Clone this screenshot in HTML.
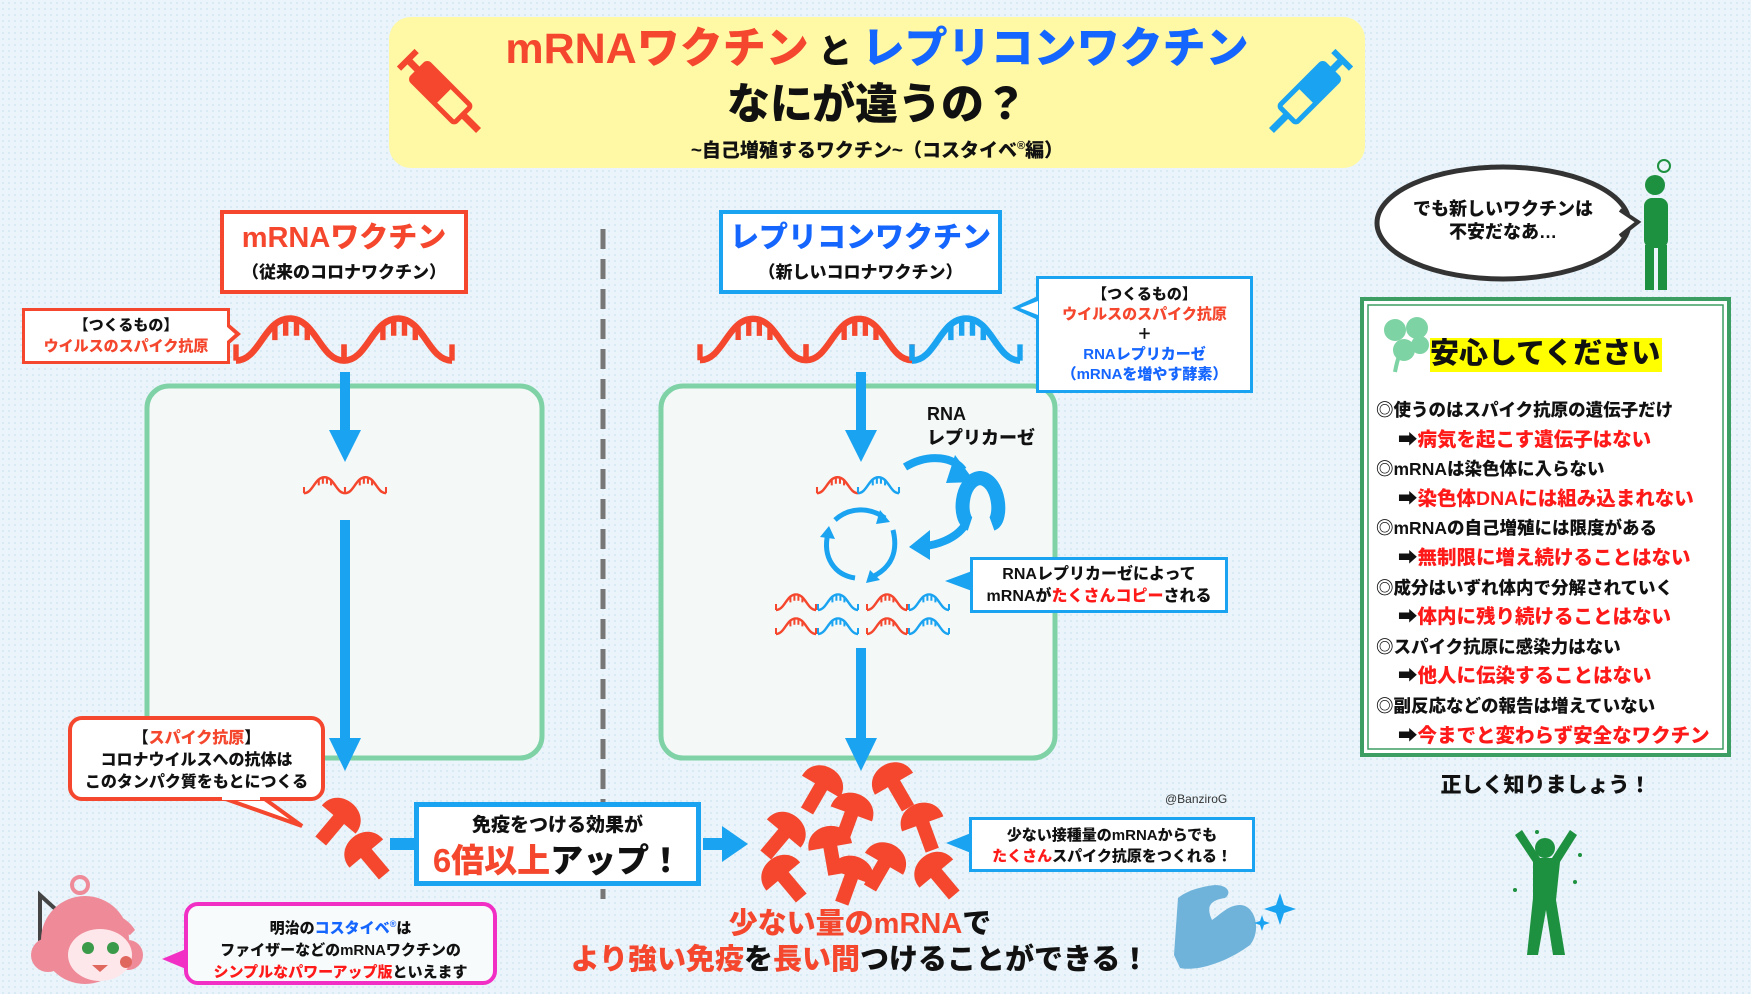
<!DOCTYPE html>
<html><head><meta charset="utf-8">
<style>
*{margin:0;padding:0;box-sizing:border-box}
body{width:1751px;height:994px;position:relative;overflow:hidden;background:#eaf4fa;
background-image:radial-gradient(#d6e9f4 1px,transparent 1.2px);background-size:6px 6px;
font-family:"Liberation Sans","Noto Sans CJK JP",sans-serif;font-weight:900;color:#111}
.a{position:absolute}
.c{text-align:center}
.r{color:#f4472e}.b{color:#1565ff}.rr{color:#ff1a1a}
.box{position:absolute;background:#fff;border:4px solid}
</style></head><body>
<svg class="a" style="left:0;top:0" width="1751" height="994" viewBox="0 0 1751 994">
<defs>
<symbol id="hump" viewBox="0 0 100 50" overflow="visible">
<path d="M0,45 C22,45 26,6 50,6 C74,6 78,45 100,45" fill="none" stroke="currentColor" stroke-width="6"/>
<path d="M36,12V26M46,7V22M56,7V22M66,12V26" stroke="currentColor" stroke-width="5"/>
<path d="M0,45 V30 M100,45 V30" stroke="currentColor" stroke-width="5"/>
</symbol>
<symbol id="mush" viewBox="-25 -25 50 60" overflow="visible">
<path d="M-22,2 C-22,-26 22,-26 22,2 Z" fill="#f4472e"/>
<rect x="-7" y="0" width="14" height="30" fill="#f4472e"/>
</symbol>
</defs>
<rect x="389" y="17" width="976" height="151" rx="22" fill="#fff9a6"/>
<g transform="translate(440,92) rotate(45)" fill="#f4472e" stroke="#f4472e">
<rect x="-30" y="-12" width="62" height="24" rx="3" fill="none" stroke-width="5"/>
<rect x="-30" y="-10" width="35" height="20"/><rect x="32" y="-3" width="22" height="6"/>
<rect x="-44" y="-3" width="14" height="6"/><rect x="-48" y="-12" width="5" height="24"/>
</g>
<g transform="translate(1310,92) rotate(135)" fill="#1aa3f0" stroke="#1aa3f0">
<rect x="-30" y="-12" width="62" height="24" rx="3" fill="none" stroke-width="5"/>
<rect x="-30" y="-10" width="35" height="20"/><rect x="32" y="-3" width="22" height="6"/>
<rect x="-44" y="-3" width="14" height="6"/><rect x="-48" y="-12" width="5" height="24"/>
</g>
<line x1="603" y1="229" x2="603" y2="899" stroke="#777" stroke-width="5" stroke-dasharray="20 10"/>
<rect x="147" y="386" width="395" height="372" rx="22" fill="#f4f9f8" stroke="#7fd2a6" stroke-width="5"/>
<rect x="661" y="386" width="394" height="372" rx="22" fill="#f4f9f8" stroke="#7fd2a6" stroke-width="5"/>
<use href="#hump" x="236" y="312" width="108" height="54" color="#f4472e"/>
<use href="#hump" x="344" y="312" width="108" height="54" color="#f4472e"/>
<use href="#hump" x="700" y="312" width="106" height="54" color="#f4472e"/>
<use href="#hump" x="806" y="312" width="106" height="54" color="#f4472e"/>
<use href="#hump" x="912" y="312" width="108" height="54" color="#1aa3f0"/>
<use href="#hump" x="304" y="474" width="41" height="22" color="#f4472e"/>
<use href="#hump" x="345" y="474" width="41" height="22" color="#f4472e"/>
<use href="#hump" x="817" y="474" width="41" height="22" color="#f4472e"/>
<use href="#hump" x="858" y="474" width="41" height="22" color="#1aa3f0"/>
<g>
<use href="#hump" x="775" y="592" width="42" height="20" color="#f4472e"/><use href="#hump" x="817" y="592" width="42" height="20" color="#1aa3f0"/>
<use href="#hump" x="866" y="592" width="42" height="20" color="#f4472e"/><use href="#hump" x="908" y="592" width="42" height="20" color="#1aa3f0"/>
<use href="#hump" x="775" y="616" width="42" height="20" color="#f4472e"/><use href="#hump" x="817" y="616" width="42" height="20" color="#1aa3f0"/>
<use href="#hump" x="866" y="616" width="42" height="20" color="#f4472e"/><use href="#hump" x="908" y="616" width="42" height="20" color="#1aa3f0"/>
</g>
<g fill="#1aa3f0">
<rect x="340" y="372" width="10" height="60"/><path d="M329,430 H361 L345,462Z"/>
<rect x="340" y="520" width="10" height="220"/><path d="M329,738 H361 L345,771Z"/>
<rect x="856" y="372" width="10" height="60"/><path d="M845,430 H877 L861,462Z"/>
<rect x="856" y="648" width="10" height="92"/><path d="M845,738 H877 L861,771Z"/>
<rect x="390" y="838" width="24" height="12"/>
<rect x="703" y="838" width="22" height="12"/><path d="M722,826 L748,844 L722,862Z"/>
</g>
<path d="M905,467 C930,452 955,458 963,470" fill="none" stroke="#1aa3f0" stroke-width="8"/>
<path d="M955,455 L975,482 L946,483Z" fill="#1aa3f0"/>
<path d="M965,525 C955,540 935,545 925,546" fill="none" stroke="#1aa3f0" stroke-width="8"/>
<path d="M930,530 L909,547 L930,560Z" fill="#1aa3f0"/>
<path d="M970,524 C958,520 960,480 980,478 C1000,480 1003,520 992,524" fill="none" stroke="#1aa3f0" stroke-width="14"/>
<g fill="none" stroke="#1aa3f0" stroke-width="5">
<path d="M835,520 C848,508 868,506 885,518"/><path d="M893,530 C898,550 893,568 870,578"/><path d="M855,578 C835,575 822,558 828,533"/>
</g>
<g fill="#1aa3f0"><path d="M880,510 L890,522 L876,524Z"/><path d="M870,570 L866,583 L880,580Z"/><path d="M820,537 L829,526 L835,539Z"/></g>
<path d="M220,797 L302,826 L262,797Z" fill="#fff" stroke="#f4472e" stroke-width="4" stroke-linejoin="miter"/>
<use href="#mush" x="-25" y="-25" width="50" height="60" transform="translate(340,818) rotate(40)"/>
<use href="#mush" x="-25" y="-25" width="50" height="60" transform="translate(365,852) rotate(-40)"/>
<g>
<use href="#mush" x="-25" y="-25" width="50" height="60" transform="translate(822,785) rotate(30)"/>
<use href="#mush" x="-25" y="-25" width="50" height="60" transform="translate(893,782) rotate(-30)"/>
<use href="#mush" x="-25" y="-25" width="50" height="60" transform="translate(852,812) rotate(20)"/>
<use href="#mush" x="-25" y="-25" width="50" height="60" transform="translate(922,822) rotate(-20)"/>
<use href="#mush" x="-25" y="-25" width="50" height="60" transform="translate(785,832) rotate(40)"/>
<use href="#mush" x="-25" y="-25" width="50" height="60" transform="translate(830,845) rotate(-10)"/>
<use href="#mush" x="-25" y="-25" width="50" height="60" transform="translate(885,862) rotate(30)"/>
<use href="#mush" x="-25" y="-25" width="50" height="60" transform="translate(782,875) rotate(-40)"/>
<use href="#mush" x="-25" y="-25" width="50" height="60" transform="translate(852,875) rotate(20)"/>
<use href="#mush" x="-25" y="-25" width="50" height="60" transform="translate(935,872) rotate(-40)"/>
</g>
<ellipse cx="1503" cy="223" rx="126" ry="56" fill="#fff" stroke="#333" stroke-width="5"/>
<path d="M1620,210 L1638,222 L1620,236" fill="#fff" stroke="#333" stroke-width="4"/>
<g fill="#1e9140"><circle cx="1655" cy="185" r="10"/><rect x="1644" y="198" width="24" height="50" rx="8"/><rect x="1645" y="245" width="9" height="45"/><rect x="1658" y="245" width="9" height="45"/></g>
<circle cx="1664" cy="166" r="6" fill="none" stroke="#1e9140" stroke-width="2"/>
<rect x="1362" y="299" width="367" height="456" fill="#fff" stroke="#3d9e63" stroke-width="4"/>
<rect x="1368" y="305" width="355" height="444" fill="none" stroke="#3d9e63" stroke-width="1.5"/>
<g fill="#7dd3a3"><circle cx="1395" cy="330" r="11"/><circle cx="1417" cy="328" r="11"/><circle cx="1404" cy="350" r="11"/><circle cx="1420" cy="345" r="9"/><path d="M1395,372 C1398,355 1402,348 1408,342" stroke="#7dd3a3" stroke-width="4" fill="none"/></g>
<rect x="1430" y="338" width="232" height="34" fill="#ffff00"/>
<g fill="#1e9140"><circle cx="1545" cy="848" r="10"/><path d="M1533,862 L1515,835 L1522,830 L1540,858 H1552 L1570,830 L1577,835 L1560,862 L1556,900 L1565,955 L1553,955 L1546,910 L1538,955 L1527,955 L1533,898Z"/></g>
<g fill="#1e9140"><circle cx="1537" cy="832" r="2"/><circle cx="1515" cy="890" r="2"/><circle cx="1575" cy="882" r="2"/><circle cx="1580" cy="855" r="2"/></g>
<path d="M1178,898 L1174,955 L1180,968 C1200,972 1230,960 1250,945 C1262,930 1255,905 1240,905 C1228,905 1220,915 1212,920 C1205,905 1212,900 1225,898 C1232,893 1228,885 1215,885 C1198,887 1185,892 1178,898Z" fill="#6fb3db"/>
<path d="M1280,893 l4,12 12,4 -12,4 -4,12 -4,-12 -12,-4 12,-4Z" fill="#1aa3f0"/>
<path d="M1262,915 l2,6 6,2 -6,2 -2,6 -2,-6 -6,-2 6,-2Z" fill="#1aa3f0"/>
<g>
<path d="M40,895 L40,940 L62,915Z" fill="none" stroke="#444" stroke-width="4"/>
<circle cx="85" cy="940" r="44" fill="#ef8a98"/>
<circle cx="48" cy="955" r="17" fill="#ef8a98"/><circle cx="128" cy="955" r="15" fill="#ef8a98"/>
<circle cx="80" cy="885" r="8" fill="none" stroke="#ef8a98" stroke-width="4"/>
<ellipse cx="100" cy="955" rx="32" ry="26" fill="#fde7ea"/>
<path d="M60,925 C75,905 120,905 135,930 L130,935 C110,925 90,925 70,940Z" fill="#ef8a98"/>
<circle cx="88" cy="948" r="6" fill="#3a9a4a"/><circle cx="113" cy="948" r="6" fill="#3a9a4a"/>
<circle cx="126" cy="962" r="6" fill="#e0675e"/>
<path d="M92,965 L108,965 L100,972Z" fill="#e0675e"/>
</g>
</svg>

<div class="a c" style="left:389px;top:22px;width:976px;font-size:43px;line-height:54px"><span class="r">mRNAワクチン</span><span style="font-size:34px"> と </span><span class="b">レプリコンワクチン</span></div>
<div class="a c" style="left:389px;top:78px;width:976px;font-size:43px;line-height:54px">なにが違うの？</div>
<div class="a c" style="left:389px;top:133px;width:976px;font-size:19px;line-height:26px">~自己増殖するワクチン~（コスタイベ<sup style="font-size:11px">®</sup>編）</div>

<div class="box c" style="left:220px;top:210px;width:248px;height:84px;border-color:#f4472e"><div class="r" style="font-size:29px;line-height:44px;margin-top:2px">mRNAワクチン</div><div style="font-size:17px;line-height:26px">（従来のコロナワクチン）</div></div>
<div class="box c" style="left:719px;top:210px;width:283px;height:84px;border-color:#1aa3f0"><div class="b" style="font-size:29px;line-height:44px;margin-top:2px">レプリコンワクチン</div><div style="font-size:17px;line-height:26px">（新しいコロナワクチン）</div></div>

<div class="box c" style="left:22px;top:308px;width:208px;height:56px;border-color:#f4472e;border-width:3px;font-size:15px;line-height:21px;padding-top:4px">【つくるもの】<br><span class="r">ウイルスのスパイク抗原</span></div>
<div class="a" style="left:227px;top:322px;width:0;height:0;border-top:12px solid transparent;border-bottom:12px solid transparent;border-left:14px solid #f4472e"></div>
<div class="a" style="left:226px;top:326px;width:0;height:0;border-top:8px solid transparent;border-bottom:8px solid transparent;border-left:9px solid #fff"></div>

<div class="box c" style="left:1036px;top:276px;width:217px;height:117px;border-color:#1aa3f0;border-width:3px;font-size:15px;line-height:20px;padding-top:6px">【つくるもの】<br><span class="r">ウイルスのスパイク抗原</span><br>＋<br><span class="b">RNAレプリカーゼ<br>（mRNAを増やす酵素）</span></div>
<div class="a" style="left:1012px;top:296px;width:0;height:0;border-top:12px solid transparent;border-bottom:12px solid transparent;border-right:26px solid #1aa3f0"></div>
<div class="a" style="left:1020px;top:301px;width:0;height:0;border-top:7px solid transparent;border-bottom:7px solid transparent;border-right:18px solid #fff"></div>

<div class="a" style="left:927px;top:402px;font-size:18px;line-height:24px">RNA<br>レプリカーゼ</div>

<div class="box c" style="left:970px;top:557px;width:258px;height:56px;border-color:#1aa3f0;border-width:3px;font-size:16px;line-height:22px;padding-top:4px">RNAレプリカーゼによって<br>mRNAが<span class="rr">たくさんコピー</span>される</div>
<div class="a" style="left:945px;top:571px;width:0;height:0;border-top:10px solid transparent;border-bottom:10px solid transparent;border-right:27px solid #1aa3f0"></div>

<div class="box c" style="left:68px;top:716px;width:257px;height:85px;border-color:#f4472e;border-radius:14px;font-size:16px;line-height:22px;padding-top:8px">【<span class="r">スパイク抗原</span>】<br>コロナウイルスへの抗体は<br>このタンパク質をもとにつくる</div>
<div class="a" style="left:222px;top:792px;width:38px;height:8px;background:#fff"></div>

<div class="box c" style="left:414px;top:802px;width:287px;height:84px;border-color:#1aa3f0;border-width:5px"><div style="font-size:19px;line-height:30px;margin-top:4px">免疫をつける効果が</div><div style="font-size:33px;line-height:40px"><span class="r">6倍以上</span>アップ！</div></div>

<div class="a" style="left:1165px;top:792px;font-size:12px;font-weight:400;color:#333">@BanziroG</div>
<div class="box c" style="left:969px;top:817px;width:286px;height:55px;border-color:#1aa3f0;border-width:3px;font-size:15px;line-height:21px;padding-top:5px">少ない接種量のmRNAからでも<br><span class="rr">たくさん</span>スパイク抗原をつくれる！</div>
<div class="a" style="left:946px;top:833px;width:0;height:0;border-top:10px solid transparent;border-bottom:10px solid transparent;border-right:25px solid #1aa3f0"></div>

<div class="a c" style="left:560px;top:905px;width:600px;font-size:29px;line-height:38px" ><span class="r">少ない量のmRNA</span>で</div>
<div class="a c" style="left:520px;top:941px;width:680px;font-size:29px;line-height:38px"><span class="r">より強い免疫</span>を<span class="r">長い間</span>つけることができる！</div>

<div class="box c" style="left:184px;top:902px;width:313px;height:83px;border-color:#f22fc4;border-radius:14px;border-width:4px;font-size:15px;line-height:22px;padding-top:7px;background:#f7fbfb">明治の<span class="b">コスタイベ<sup style="font-size:9px">®</sup></span>は<br>ファイザーなどのmRNAワクチンの<br><span class="rr">シンプルなパワーアップ版</span>といえます</div>
<div class="a" style="left:162px;top:949px;width:0;height:0;border-top:10px solid transparent;border-bottom:10px solid transparent;border-right:24px solid #f22fc4"></div>

<div class="a c" style="left:1376px;top:198px;width:254px;font-size:18px;line-height:23px">でも新しいワクチンは<br>不安だなあ…</div>

<div class="a" style="left:1430px;top:334px;font-size:29px;line-height:40px">安心してください</div>
<div class="a" style="left:1376px;top:396px;font-size:17.5px;line-height:29.6px;white-space:nowrap">
<div>◎使うのはスパイク抗原の遺伝子だけ</div>
<div class="rr" style="padding-left:22px;font-size:19.5px"><span style="color:#111">➡</span>病気を起こす遺伝子はない</div>
<div>◎mRNAは染色体に入らない</div>
<div class="rr" style="padding-left:22px;font-size:19.5px"><span style="color:#111">➡</span>染色体DNAには組み込まれない</div>
<div>◎mRNAの自己増殖には限度がある</div>
<div class="rr" style="padding-left:22px;font-size:19.5px"><span style="color:#111">➡</span>無制限に増え続けることはない</div>
<div>◎成分はいずれ体内で分解されていく</div>
<div class="rr" style="padding-left:22px;font-size:19.5px"><span style="color:#111">➡</span>体内に残り続けることはない</div>
<div>◎スパイク抗原に感染力はない</div>
<div class="rr" style="padding-left:22px;font-size:19.5px"><span style="color:#111">➡</span>他人に伝染することはない</div>
<div>◎副反応などの報告は増えていない</div>
<div class="rr" style="padding-left:22px;font-size:19.5px"><span style="color:#111">➡</span>今までと変わらず安全なワクチン</div>
</div>
<div class="a c" style="left:1362px;top:771px;width:367px;font-size:21px;line-height:30px">正しく知りましょう！</div>
</body></html>
